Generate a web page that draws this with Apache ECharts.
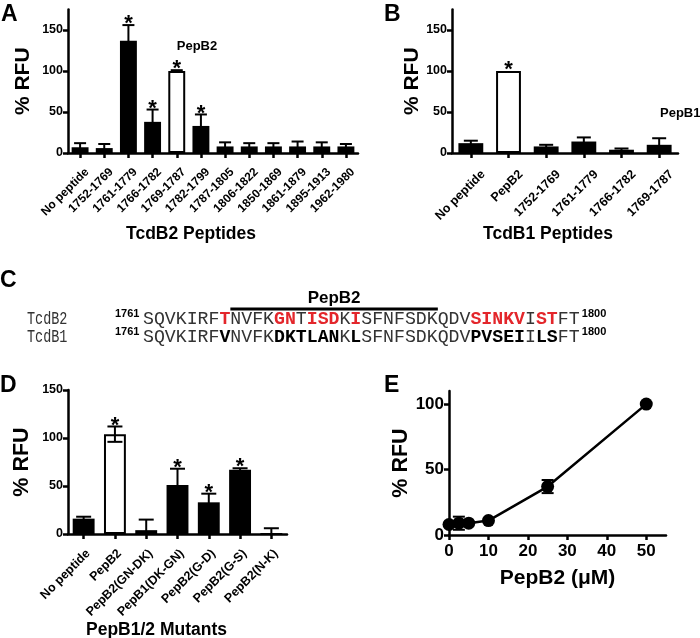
<!DOCTYPE html>
<html>
<head>
<meta charset="utf-8">
<script src="https://cdn.jsdelivr.net/npm/echarts@6/dist/echarts.min.js"></script>
<style>
  html, body { margin: 0; padding: 0; background: #fff; }
  #fig { width: 700px; height: 638px; }
</style>
</head>
<body>
<div id="fig"></div>
<script>
// ---- panel A: TcdB2 peptides
var aCats = ['No peptide', '1752-1769', '1761-1779', '1766-1782', '1769-1787', '1782-1799',
             '1787-1805', '1806-1822', '1850-1869', '1861-1879', '1895-1913', '1962-1980'];
var aVals = [7, 6, 137, 38, 100, 33, 8, 8, 8, 8, 8, 8];
var aErrs = [5, 5, 19, 15, 1, 14, 5, 4, 4, 6, 5, 3];
var aStar = [0, 0, 1, 1, 1, 1, 0, 0, 0, 0, 0, 0];
var aOpen = [0, 0, 0, 0, 1, 0, 0, 0, 0, 0, 0, 0];

// ---- panel B: TcdB1 peptides
var bCats = ['No peptide', 'PepB2', '1752-1769', '1761-1779', '1766-1782', '1769-1787'];
var bVals = [12, 100, 8, 14, 4, 10];
var bErrs = [3, 0, 2, 5, 1.5, 8];
var bStar = [0, 1, 0, 0, 0, 0];
var bOpen = [0, 1, 0, 0, 0, 0];

// ---- panel C: sequence alignment (text, style key)
var seqB2 = [['SQVKIRF', 'n'], ['T', 'r'], ['NVFK', 'n'], ['GN', 'r'], ['T', 'n'], ['ISD', 'r'],
             ['K', 'n'], ['I', 'r'], ['SFNFSDKQDV', 'n'], ['SINKV', 'r'], ['I', 'n'], ['ST', 'r'], ['FT', 'n']];
var seqB1 = [['SQVKIRF', 'n'], ['V', 'b'], ['NVFK', 'n'], ['DKTLAN', 'b'], ['K', 'n'], ['L', 'b'],
             ['SFNFSDKQDV', 'n'], ['PVSEI', 'b'], ['I', 'n'], ['LS', 'b'], ['FT', 'n']];
var seqStart = '1761';
var seqEnd = '1800';

// ---- panel D: PepB1/2 mutants
var dCats = ['No peptide', 'PepB2', 'PepB2(GN-DK)', 'PepB1(DK-GN)', 'PepB2(G-D)', 'PepB2(G-S)', 'PepB2(N-K)'];
var dVals = [16, 104, 4, 51, 33, 67, 1];
var dErrs = [2, 8, 11, 17, 9, 1.5, 5];
var dStar = [0, 1, 0, 1, 1, 1, 0];
var dOpen = [0, 1, 0, 0, 0, 0, 0];

// ---- panel E: dose response
var eConc = [0, 2.5, 5, 10, 25, 50];
var eVals = [8, 9, 9, 11, 37, 100];
var eErrs = [0, 5, 0, 0, 5, 0];

var FONT = '"Liberation Sans", Arial, Helvetica, sans-serif';
var MONO = '"Liberation Mono", "Courier New", monospace';

function barData(vals, open) {
  return vals.map(function (v, i) {
    return {
      value: v,
      itemStyle: open[i]
        ? { color: '#fff', borderColor: '#000', borderWidth: 2 }
        : { color: '#000', borderColor: '#000', borderWidth: 0 }
    };
  });
}

// error bars (+ asterisk) drawn through the axes
function errSeries(gi, rows, capW) {
  return {
    type: 'custom', xAxisIndex: gi, yAxisIndex: gi, z: 5, silent: true,
    data: rows,
    renderItem: function (params, api) {
      var x = api.value(0), v = api.value(1), e = api.value(2), s = api.value(3);
      var st = { stroke: '#000', lineWidth: 2 };
      var kids = [];
      var hi = api.coord([x, v + e]);
      if (e > 0) {
        var lo = api.coord([x, Math.max(0, v - e)]);
        kids.push({ type: 'line', shape: { x1: hi[0], y1: hi[1], x2: lo[0], y2: lo[1] }, style: st });
        kids.push({ type: 'line', shape: { x1: hi[0] - capW / 2, y1: hi[1], x2: hi[0] + capW / 2, y2: hi[1] }, style: st });
        if (v - e > 0) {
          kids.push({ type: 'line', shape: { x1: lo[0] - capW / 2, y1: lo[1], x2: lo[0] + capW / 2, y2: lo[1] }, style: st });
        }
      }
      if (s) {
        kids.push({
          type: 'text', x: hi[0], y: hi[1] - 1,
          style: { text: '*', font: 'bold 22px ' + FONT, fill: '#000', align: 'center', verticalAlign: 'middle' }
        });
      }
      return { type: 'group', children: kids };
    }
  };
}

function rows(vals, errs, stars) {
  return vals.map(function (v, i) { return [i, v, errs[i], stars ? stars[i] : 0]; });
}

var axLine = { show: true, lineStyle: { color: '#000', width: 2.5 } };

function catAxis(gi, cats, fs, margin, padTop, name, gap, shift) {
  return {
    type: 'category', gridIndex: gi, data: cats,
    axisLine: axLine,
    axisTick: { show: true, alignWithLabel: true, length: 5, lineStyle: { color: '#000', width: 2.5 } },
    axisLabel: {
      interval: 0, rotate: 45, margin: margin, verticalAlign: 'top', padding: [padTop, 0, 0, 0],
      color: '#000', fontFamily: FONT, fontWeight: 'bold', fontSize: fs
    },
    name: name, nameLocation: 'middle', nameGap: gap,
    nameTextStyle: { color: '#000', fontFamily: FONT, fontWeight: 'bold', fontSize: 17.5, padding: [0, shift, 0, 0] }
  };
}

function valAxis(gi, max, ticks, fs, name, gap, nameSize) {
  return {
    type: 'value', gridIndex: gi, min: 0, max: max,
    axisLine: axLine,
    axisTick: { show: true, length: 5, lineStyle: { color: '#000', width: 2.5 }, customValues: ticks },
    axisLabel: { color: '#000', fontFamily: FONT, fontWeight: 'bold', fontSize: fs, margin: 5, customValues: ticks },
    splitLine: { show: false },
    name: name, nameLocation: 'middle', nameGap: gap, nameRotate: 90,
    nameTextStyle: { color: '#000', fontFamily: FONT, fontWeight: 'bold', fontSize: nameSize }
  };
}

function richText(segs) {
  return segs.map(function (s) { return '{' + s[1] + '|' + s[0] + '}'; }).join('');
}

var seqSize = 18.2;
var charW = seqSize * 0.6;
var seqX = 143;
var row1 = 319, row2 = 337;
var rich = {
  n: { fontFamily: MONO, fontSize: seqSize, fill: '#333' },
  r: { fontFamily: MONO, fontSize: seqSize, fontWeight: 'bold', fill: '#e3262b' },
  b: { fontFamily: MONO, fontSize: seqSize, fontWeight: 'bold', fill: '#000' }
};
var seqLen = seqB2.reduce(function (a, s) { return a + s[0].length; }, 0);

function panelLetter(t, x, y) {
  return { type: 'text', x: x, y: y, style: { text: t, font: 'bold 23px ' + FONT, fill: '#000' } };
}

var option = {
  animation: false,
  backgroundColor: '#fff',
  grid: [
    { left: 68, top: 9.5, width: 290, height: 143.5, outerBoundsMode: 'none' },
    { left: 452, top: 9.5, width: 226, height: 143.5, outerBoundsMode: 'none' },
    { left: 68, top: 390, width: 219, height: 144, outerBoundsMode: 'none' },
    { left: 449, top: 391, width: 217, height: 144, outerBoundsMode: 'none' }
  ],
  xAxis: [
    catAxis(0, aCats, 12, 10, 4, 'TcdB2 Peptides', 72, 44),
    catAxis(1, bCats, 12.5, 7, 11, 'TcdB1 Peptides', 72, 34),
    catAxis(2, dCats, 12.5, 13, 0, 'PepB1/2 Mutants', 82, 42),
    {
      type: 'value', gridIndex: 3, min: 0, max: 55,
      axisLine: axLine,
      axisTick: { show: true, length: 5, lineStyle: { color: '#000', width: 2.5 }, customValues: [0, 10, 20, 30, 40, 50] },
      axisLabel: { color: '#000', fontFamily: FONT, fontWeight: 'bold', fontSize: 17, margin: 8, customValues: [0, 10, 20, 30, 40, 50] },
      splitLine: { show: false },
      name: 'PepB2 (\u03bcM)', nameLocation: 'middle', nameGap: 33,
      nameTextStyle: { color: '#000', fontFamily: FONT, fontWeight: 'bold', fontSize: 21 }
    }
  ],
  yAxis: [
    valAxis(0, 175, [0, 50, 100, 150], 12.5, '% RFU', 34, 21),
    valAxis(1, 175, [0, 50, 100, 150], 12.5, '% RFU', 23, 21),
    valAxis(2, 150, [0, 50, 100, 150], 12.5, '% RFU', 35, 21.5),
    valAxis(3, 110, [0, 50, 100], 17, '% RFU', 27, 21.5)
  ],
  series: [
    { type: 'bar', xAxisIndex: 0, yAxisIndex: 0, barWidth: '70%', data: barData(aVals, aOpen) },
    errSeries(0, rows(aVals, aErrs, aStar), 12),
    { type: 'bar', xAxisIndex: 1, yAxisIndex: 1, barWidth: '66%', data: barData(bVals, bOpen) },
    errSeries(1, rows(bVals, bErrs, bStar), 14),
    { type: 'bar', xAxisIndex: 2, yAxisIndex: 2, barWidth: '70%', data: barData(dVals, dOpen) },
    errSeries(2, rows(dVals, dErrs, dStar), 15),
    {
      type: 'line', xAxisIndex: 3, yAxisIndex: 3,
      data: eConc.map(function (c, i) { return [c, eVals[i]]; }),
      symbol: 'circle', symbolSize: 13,
      itemStyle: { color: '#000' },
      lineStyle: { color: '#000', width: 2.5 }
    },
    errSeries(3, eConc.map(function (c, i) { return [c, eVals[i], eErrs[i], 0]; }), 12)
  ],
  graphic: [
    panelLetter('A', 1, 3),
    panelLetter('B', 384, 3),
    panelLetter('C', 0, 269),
    panelLetter('D', 0, 374),
    panelLetter('E', 384, 374),
    { type: 'text', x: 197, y: 46, style: { text: 'PepB2', font: 'bold 13px ' + FONT, fill: '#000', align: 'center', verticalAlign: 'middle' } },
    { type: 'text', x: 660, y: 113, style: { text: 'PepB1', font: 'bold 13px ' + FONT, fill: '#000', align: 'left', verticalAlign: 'middle' } },
    // panel C
    { type: 'line', shape: { x1: seqX + 8 * charW, y1: 309, x2: seqX + 27 * charW, y2: 309 }, style: { stroke: '#000', lineWidth: 3 } },
    { type: 'text', x: seqX + 17.5 * charW, y: 298, style: { text: 'PepB2', font: 'bold 17px ' + FONT, fill: '#000', align: 'center', verticalAlign: 'middle' } },
    { type: 'text', x: 27, y: row1, scaleX: 0.74, style: { text: 'TcdB2', font: seqSize + 'px ' + MONO, fill: '#333', verticalAlign: 'middle' } },
    { type: 'text', x: 27, y: row2, scaleX: 0.74, style: { text: 'TcdB1', font: seqSize + 'px ' + MONO, fill: '#333', verticalAlign: 'middle' } },
    { type: 'text', x: 115, y: row1 - 5, style: { text: seqStart, font: 'bold 11px ' + FONT, fill: '#000', verticalAlign: 'middle' } },
    { type: 'text', x: 115, y: row2 - 5, style: { text: seqStart, font: 'bold 11px ' + FONT, fill: '#000', verticalAlign: 'middle' } },
    { type: 'text', x: seqX, y: row1, style: { text: richText(seqB2), rich: rich, verticalAlign: 'middle' } },
    { type: 'text', x: seqX, y: row2, style: { text: richText(seqB1), rich: rich, verticalAlign: 'middle' } },
    { type: 'text', x: seqX + seqLen * charW + 2, y: row1 - 5, style: { text: seqEnd, font: 'bold 11px ' + FONT, fill: '#000', verticalAlign: 'middle' } },
    { type: 'text', x: seqX + seqLen * charW + 2, y: row2 - 5, style: { text: seqEnd, font: 'bold 11px ' + FONT, fill: '#000', verticalAlign: 'middle' } }
  ]
};

var chart = echarts.init(document.getElementById('fig'));
chart.setOption(option);
</script>
</body>
</html>
